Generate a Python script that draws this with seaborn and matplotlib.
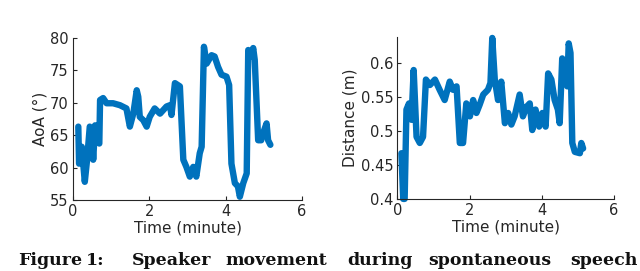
import matplotlib
matplotlib.use("Agg")
import matplotlib.pyplot as plt
import seaborn as sns
import pandas as pd

# AoA series (time in minutes, angle in degrees)
aoa_time = [0.14, 0.16, 0.23, 0.27, 0.31, 0.37, 0.44, 0.49, 0.53, 0.58, 0.62, 0.69,
            0.71, 0.79, 0.88, 1.05, 1.23, 1.40, 1.49, 1.58, 1.67, 1.71, 1.75, 1.84,
            1.93, 2.01, 2.14, 2.28, 2.45, 2.54, 2.58, 2.67, 2.80, 2.89, 2.97, 3.06,
            3.15, 3.23, 3.32, 3.37, 3.43, 3.50, 3.63, 3.71, 3.80, 3.89, 4.02, 4.09,
            4.15, 4.24, 4.32, 4.37, 4.46, 4.55, 4.59, 4.67, 4.72, 4.76, 4.85, 4.93,
            4.98, 5.07, 5.11, 5.17]
aoa_value = [66.3, 60.6, 63.2, 60.5, 57.8, 61.2, 66.3, 65.8, 61.2, 66.5, 64.2, 63.7,
             70.4, 70.7, 69.9, 69.9, 69.6, 69.1, 66.3, 68.3, 71.9, 70.9, 67.8, 67.3,
             66.3, 67.8, 69.1, 68.3, 69.4, 69.6, 68.1, 73.0, 72.5, 61.2, 60.1, 58.6,
             60.1, 58.6, 62.2, 63.2, 78.6, 76.0, 77.3, 77.1, 75.5, 74.3, 74.0, 72.7,
             60.6, 57.6, 57.1, 55.5, 57.6, 59.1, 78.1, 77.1, 78.4, 76.6, 64.2, 64.2,
             65.3, 66.8, 64.2, 63.5]

# Distance series (time in minutes, distance in metres)
dist_time = [0.11, 0.16, 0.20, 0.25, 0.32, 0.39, 0.45, 0.53, 0.62, 0.71, 0.79, 0.90,
             1.04, 1.17, 1.31, 1.45, 1.54, 1.64, 1.73, 1.82, 1.91, 2.01, 2.10, 2.19,
             2.28, 2.38, 2.51, 2.58, 2.63, 2.70, 2.79, 2.88, 2.98, 3.07, 3.16, 3.25,
             3.39, 3.48, 3.58, 3.67, 3.74, 3.83, 3.93, 4.02, 4.11, 4.18, 4.27, 4.36,
             4.45, 4.50, 4.57, 4.64, 4.71, 4.75, 4.80, 4.85, 4.92, 5.06, 5.10, 5.15]
dist_value = [0.467, 0.400, 0.400, 0.531, 0.540, 0.516, 0.589, 0.491, 0.482, 0.491,
              0.575, 0.567, 0.575, 0.560, 0.545, 0.572, 0.560, 0.565, 0.482, 0.482,
              0.540, 0.521, 0.545, 0.526, 0.538, 0.553, 0.560, 0.570, 0.636, 0.575,
              0.545, 0.572, 0.511, 0.526, 0.509, 0.521, 0.553, 0.521, 0.535, 0.540,
              0.501, 0.531, 0.506, 0.526, 0.506, 0.584, 0.575, 0.545, 0.531, 0.511,
              0.606, 0.599, 0.565, 0.628, 0.614, 0.482, 0.469, 0.467, 0.482, 0.474]

x_ticks = [0, 2, 4, 6]
aoa_ticks = [55, 60, 65, 70, 75, 80]
dist_ticks = [0.4, 0.45, 0.5, 0.55, 0.6]
dist_tick_labels = ["0.4", "0.45", "0.5", "0.55", "0.6"]

caption_words = ["Figure", "1:", "Speaker", "movement", "during", "spontaneous", "speech"]
caption_x_px = [18, 86, 132, 225, 347, 428, 570]

sns.set_style("ticks")
plt.rcParams['font.family'] = ['DejaVu Sans']

blue = "#0072BD"
W, H = 640, 271
fig = plt.figure(figsize=(W / 100, H / 100), dpi=100)
ax1 = fig.add_axes([0.114, 0.262, 0.358, 0.599])
ax2 = fig.add_axes([0.621, 0.266, 0.338, 0.599])

df1 = pd.DataFrame({"t": aoa_time, "v": aoa_value})
df2 = pd.DataFrame({"t": dist_time, "v": dist_value})

sns.lineplot(data=df1, x="t", y="v", ax=ax1, color=blue, linewidth=4.6,
             estimator=None, sort=False)
sns.lineplot(data=df2, x="t", y="v", ax=ax2, color=blue, linewidth=4.6,
             estimator=None, sort=False)

ax1.set_xlim(0, 6)
ax1.set_ylim(55, 80)
ax1.set_xticks(x_ticks)
ax1.set_yticks(aoa_ticks)
ax1.set_xlabel("Time (minute)", fontsize=11, color="#262626", labelpad=1)
ax1.set_ylabel("AoA (°)", fontsize=11, color="#262626", labelpad=2)

ax2.set_xlim(0, 6)
ax2.set_ylim(0.4, 0.638)
ax2.set_xticks(x_ticks)
ax2.set_yticks(dist_ticks)
ax2.set_yticklabels(dist_tick_labels)
ax2.set_xlabel("Time (minute)", fontsize=11, color="#262626", labelpad=1)
ax2.set_ylabel("Distance (m)", fontsize=11, color="#262626", labelpad=2)

for ax in (ax1, ax2):
    for s in ("top", "right"):
        ax.spines[s].set_visible(False)
    for s in ("left", "bottom"):
        ax.spines[s].set_color("#262626")
        ax.spines[s].set_linewidth(0.8)
    ax.tick_params(direction="in", length=3, width=0.8, labelsize=10.5,
                   colors="#262626", pad=3)
    for line in ax.get_lines():
        line.set_clip_on(False)
        line.set_solid_joinstyle("round")
        line.set_solid_capstyle("round")

for word, xp in zip(caption_words, caption_x_px):
    fig.text(xp / W, (H - 265) / H, word, fontsize=12.5, fontweight="bold",
             family=["DejaVu Serif"], ha="left", va="baseline",
             color="#111111")

fig.savefig("out.png", dpi=100)
